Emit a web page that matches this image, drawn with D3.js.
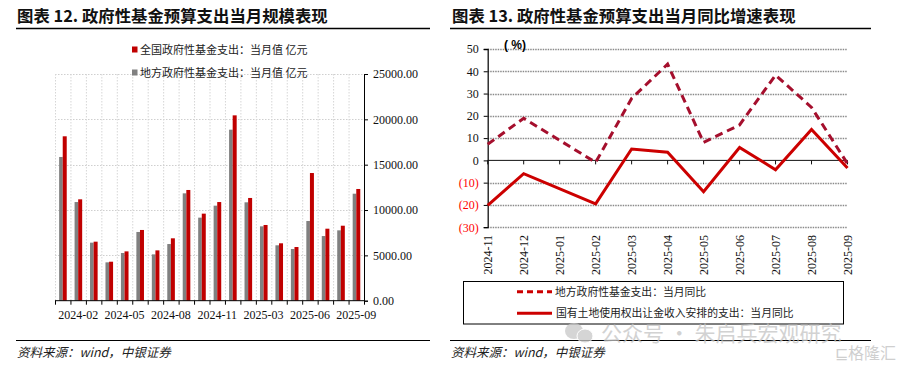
<!DOCTYPE html>
<html><head><meta charset="utf-8">
<script src="https://cdn.jsdelivr.net/npm/d3@7"></script>
<style>
html,body{margin:0;padding:0;background:#fff;}
svg{display:block;}
</style></head>
<body>
<svg id="c" width="904" height="365"></svg>
<script>
// ---- Left chart data ----
const months = ["2023-12","2024-02","2024-03","2024-04","2024-05","2024-06","2024-07","2024-08","2024-09","2024-10","2024-11","2024-12","2025-02","2025-03","2025-04","2025-05","2025-06","2025-07","2025-08","2025-09"];
const localSpend = [15850,10880,6400,4230,5260,7580,5110,6250,11840,9160,10480,18860,10850,8200,6110,5700,8790,7130,7760,11800];
const nationalSpend = [18130,11180,6510,4300,5440,7800,5550,6880,12210,9600,10880,20440,11330,8350,6330,5920,14080,7940,8270,12320];
const leftTickLabels = ["2024-02","2024-05","2024-08","2024-11","2025-03","2025-06","2025-09"];
const leftYTicks = [0,5000,10000,15000,20000,25000];

// ---- Right chart data ----
const yoyMonths = ["2024-11","2024-12","2025-01","2025-02","2025-03","2025-04","2025-05","2025-06","2025-07","2025-08","2025-09"];
const localYoY = [7.2,18.9,null,-0.9,27.8,43.2,8.1,15.9,38.3,23.8,-1.5];
const landYoY = [-20.2,-6.0,null,-19.5,5.1,3.7,-14.1,5.8,-4.2,13.9,-3.4];
const rightYTicks = [50,40,30,20,10,0,-10,-20,-30];

const svg = d3.select("#c");
const serif = "'Liberation Serif','Times New Roman',serif";
const cjk = "'Noto Sans CJK SC','Noto Sans',sans-serif";

// ===== Titles & frame lines =====
function title(x, txt){
  svg.append("text").attr("x",x).attr("y",22).attr("font-family",cjk).attr("font-weight","bold")
    .attr("font-size",16.4).attr("fill","#111").text(txt);
}
title(17,"图表 12. 政府性基金预算支出当月规模表现");
title(452,"图表 13. 政府性基金预算支出当月同比增速表现");
svg.append("line").attr("x1",16).attr("x2",430).attr("y1",28.5).attr("y2",28.5).attr("stroke","#000").attr("stroke-width",1.5);
svg.append("line").attr("x1",450).attr("x2",871).attr("y1",28.5).attr("y2",28.5).attr("stroke","#000").attr("stroke-width",1.5);
svg.append("line").attr("x1",16).attr("x2",430).attr("y1",340.5).attr("y2",340.5).attr("stroke","#000").attr("stroke-width",1.2);
svg.append("line").attr("x1",450).attr("x2",871).attr("y1",340.5).attr("y2",340.5).attr("stroke","#000").attr("stroke-width",1.2);
function source(x){
  svg.append("text").attr("x",x).attr("y",357).attr("font-family",cjk).attr("font-style","italic")
    .attr("font-size",12.5).attr("fill","#222").text("资料来源：wind，中银证券");
}
source(17); source(451);

// ===== Left chart =====
const L = {x0:55, x1:364, y0:300.7, y1:74};
const xb = d3.scaleBand().domain(months).range([L.x0,L.x1]).paddingInner(0).paddingOuter(0);
const yl = d3.scaleLinear().domain([0,25000]).range([L.y0,L.y1]);
const gL = svg.append("g");
// grid
gL.append("g").selectAll("line").data(leftYTicks.filter(d=>d>0)).join("line")
  .attr("x1",L.x0).attr("x2",L.x1).attr("y1",d=>Math.round(yl(d))+0.5).attr("y2",d=>Math.round(yl(d))+0.5)
  .attr("stroke","#cfcfcf").attr("stroke-dasharray","1.5,1.5");
gL.append("g").selectAll("line").data(months).join("line")
  .attr("x1",d=>xb(d)+0.5).attr("x2",d=>xb(d)+0.5).attr("y1",L.y1).attr("y2",L.y0)
  .attr("stroke","#d6d6d6").attr("stroke-dasharray","1.5,1.5");
// bars
const bw = 3.6;
gL.append("g").selectAll("rect").data(months).join("rect")
  .attr("x",(d,i)=>xb(d)+xb.bandwidth()/2-bw).attr("width",bw)
  .attr("y",(d,i)=>yl(localSpend[i])).attr("height",(d,i)=>yl(0)-yl(localSpend[i]))
  .attr("fill","#808080");
gL.append("g").selectAll("rect").data(months).join("rect")
  .attr("x",(d,i)=>xb(d)+xb.bandwidth()/2).attr("width",bw+0.4)
  .attr("y",(d,i)=>yl(nationalSpend[i])).attr("height",(d,i)=>yl(0)-yl(nationalSpend[i]))
  .attr("fill","#C00000");
// bottom axis line + ticks at boundaries
gL.append("line").attr("x1",L.x0).attr("x2",L.x1).attr("y1",L.y0).attr("y2",L.y0).attr("stroke","#000").attr("stroke-width",1);
gL.append("g").selectAll("line").data(months.concat(["end"])).join("line")
  .attr("x1",(d,i)=>(i<months.length?xb(d):L.x1)+0.5).attr("x2",(d,i)=>(i<months.length?xb(d):L.x1)+0.5)
  .attr("y1",L.y0).attr("y2",L.y0+4).attr("stroke","#000");
gL.append("g").selectAll("text").data(leftTickLabels).join("text")
  .attr("x",d=>xb(d)+xb.bandwidth()/2).attr("y",319).attr("text-anchor","middle")
  .attr("font-family",serif).attr("font-size",12).attr("fill","#111").text(d=>d);
// right axis
const axR = d3.axisRight(yl).tickValues(leftYTicks).tickSize(4).tickFormat(d=>d3.format(".2f")(d));
const gAx = gL.append("g").attr("transform",`translate(${L.x1},0)`).call(axR);
gAx.select(".domain").attr("stroke","#000");
gAx.selectAll("text").attr("font-family",serif).attr("font-size",12).attr("fill","#111").attr("x",9);
// legend
const legL = [{c:"#C00000",t:"全国政府性基金支出：当月值 亿元",y:49.5},{c:"#808080",t:"地方政府性基金支出：当月值 亿元",y:72.5}];
legL.forEach(l=>{
  gL.append("rect").attr("x",132).attr("y",l.y-3).attr("width",5.5).attr("height",6).attr("fill",l.c);
  gL.append("text").attr("x",140).attr("y",l.y+4).attr("font-family",cjk).attr("font-size",11).attr("fill","#222").text(l.t);
});

// ===== Right chart =====
const R = {x0:487.7, x1:847.5};
const xp = d3.scalePoint().domain(yoyMonths).range([R.x0,R.x1]);
const yr = d3.scaleLinear().domain([-30,50]).range([227.2,49]);
const gR = svg.append("g");
gR.append("g").selectAll("line").data(rightYTicks.filter(d=>d!==0)).join("line")
  .attr("x1",R.x0).attr("x2",R.x1).attr("y1",d=>Math.round(yr(d))+0.5).attr("y2",d=>Math.round(yr(d))+0.5)
  .attr("stroke","#8a8a8a").attr("stroke-width",1.3).attr("stroke-dasharray","1.5,1");
// zero axis
gR.append("line").attr("x1",R.x0).attr("x2",R.x1).attr("y1",yr(0)).attr("y2",yr(0)).attr("stroke","#111").attr("stroke-width",1);
gR.append("g").selectAll("line").data(yoyMonths).join("line")
  .attr("x1",d=>xp(d)).attr("x2",d=>xp(d)).attr("y1",yr(0)).attr("y2",yr(0)+4).attr("stroke","#111");
// left axis
const axL = d3.axisLeft(yr).tickValues(rightYTicks).tickSize(4).tickFormat(d=>d<0?`(${-d})`:`${d}`);
const gAxL = gR.append("g").attr("transform",`translate(${R.x0},0)`).call(axL);
gAxL.select(".domain").attr("stroke","#111").attr("stroke-width",1.3);
gAxL.selectAll("text").attr("font-family",serif).attr("font-size",12).attr("x",-9)
  .attr("fill",d=>d<0?"#FF0000":"#111");
// x labels rotated
gR.append("g").selectAll("text").data(yoyMonths).join("text")
  .attr("transform",d=>`translate(${xp(d)+4},235) rotate(-90)`).attr("text-anchor","end")
  .attr("font-family",serif).attr("font-size",12).attr("fill","#111").text(d=>d);
// unit
gR.append("text").attr("x",504).attr("y",49).attr("font-family","'Liberation Sans',Arial,sans-serif")
  .attr("font-weight","bold").attr("font-size",12).attr("fill","#000").text("( %)");
// lines
const mk = vals => yoyMonths.map((m,i)=>({m,v:vals[i]})).filter(d=>d.v!==null);
const line = d3.line().x(d=>xp(d.m)).y(d=>yr(d.v));
gR.append("path").attr("d",line(mk(localYoY))).attr("fill","none").attr("stroke","#A50F2D")
  .attr("stroke-width",3).attr("stroke-dasharray","8,5");
gR.append("path").attr("d",line(mk(landYoY))).attr("fill","none").attr("stroke","#CC0000")
  .attr("stroke-width",3);
// legend box
gR.append("rect").attr("x",463.5).attr("y",281.5).attr("width",380).attr("height",42.5)
  .attr("fill","#fff").attr("stroke","#000").attr("stroke-width",1);
gR.append("line").attr("x1",517).attr("x2",552).attr("y1",291.7).attr("y2",291.7).attr("stroke","#CC0000")
  .attr("stroke-width",3).attr("stroke-dasharray","6,4");
gR.append("text").attr("x",555).attr("y",295.5).attr("font-family",cjk).attr("font-size",10.8).attr("fill","#222").text("地方政府性基金支出：当月同比");
gR.append("line").attr("x1",517).attr("x2",552).attr("y1",313.3).attr("y2",313.3).attr("stroke","#CC0000").attr("stroke-width",3);
gR.append("text").attr("x",556).attr("y",316.5).attr("font-family",cjk).attr("font-size",10.8).attr("fill","#222").text("国有土地使用权出让金收入安排的支出：当月同比");

// watermark
const wm = svg.append("g").attr("opacity",0.75);
wm.append("ellipse").attr("cx",574).attr("cy",331).attr("rx",9).attr("ry",8).attr("fill","#c8c8c8");
wm.append("ellipse").attr("cx",585).attr("cy",336).attr("rx",8).attr("ry",7).attr("fill","#c8c8c8").attr("stroke","#fff").attr("stroke-width",1);
wm.append("text").attr("x",601).attr("y",341).attr("font-family",cjk).attr("font-size",21).attr("fill","#c4c4c4").text("公众号 · 朱启兵宏观研究");
svg.append("rect").attr("x",833).attr("y",342).attr("width",71).attr("height",22).attr("fill","#fff");
svg.append("text").attr("x",835).attr("y",359).attr("font-family",cjk).attr("font-size",16).attr("fill","#cfcfcf").text("⊑格隆汇");
</script>
</body></html>
